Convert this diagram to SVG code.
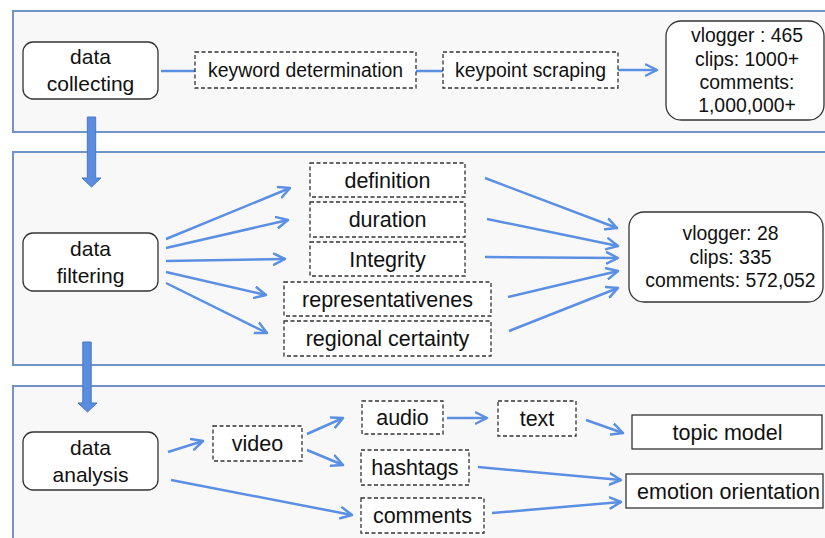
<svg xmlns="http://www.w3.org/2000/svg" width="825" height="538" viewBox="0 0 825 538">
  <style>
    .panel { fill: #f8f8f8; stroke: #7193c6; stroke-width: 2; }
    .node { fill: #ffffff; stroke: #333333; stroke-width: 1.3; }
    .dash { fill: #ffffff; stroke: #333333; stroke-width: 1.3; stroke-dasharray: 4 2.5; }
    .box { fill: #ffffff; stroke: #333333; stroke-width: 1.3; }
    .conn { fill: none; stroke: #5b8fe3; stroke-width: 2.5; }
    .big { fill: #5b8dde; stroke: #4b78c4; stroke-width: 1; }
    text { font-family: "Liberation Sans", Arial, sans-serif; fill: #111111; text-anchor: middle; }
    .t21 { font-size: 21px; }
    .t215 { font-size: 21.5px; }
    .t19 { font-size: 19.4px; }
  </style>
  <defs>
    <marker id="arr" markerUnits="userSpaceOnUse" markerWidth="14" markerHeight="14" viewBox="0 0 14 14" refX="12" refY="7" orient="auto">
      <path d="M1,1.5 L12,7 L1,12.5" fill="none" stroke="#5b8fe3" stroke-width="2.5" stroke-linecap="round" stroke-linejoin="round"/>
    </marker>
  </defs>

  <rect width="825" height="538" fill="#ffffff"/>

  <!-- stage panels -->
  <g id="panels">
    <rect class="panel" x="13" y="11" width="830" height="121"/>
    <rect class="panel" x="13" y="152" width="830" height="213"/>
    <rect class="panel" x="13" y="386" width="830" height="170"/>
  </g>

  <!-- stage-to-stage block arrows -->
  <g id="stage-arrows">
    <path class="big" d="M87.3,117 H95.7 V178 H101 L91.5,187 L82,178 H87.3 Z"/>
    <path class="big" d="M82.8,342 H91.2 V403 H97 L87.5,412 L78,403 H82.8 Z"/>
  </g>

  <!-- connectors -->
  <g id="connectors">
    <line class="conn" x1="161" y1="71" x2="195" y2="71"/>
    <line class="conn" x1="416" y1="71" x2="443" y2="71"/>
    <line class="conn" x1="618" y1="70" x2="657" y2="70" marker-end="url(#arr)"/>

    <line class="conn" x1="166" y1="239" x2="290" y2="188" marker-end="url(#arr)"/>
    <line class="conn" x1="166" y1="248" x2="288" y2="220" marker-end="url(#arr)"/>
    <line class="conn" x1="166" y1="261" x2="285" y2="259" marker-end="url(#arr)"/>
    <line class="conn" x1="166" y1="272" x2="266" y2="295" marker-end="url(#arr)"/>
    <line class="conn" x1="166" y1="283" x2="267" y2="333" marker-end="url(#arr)"/>

    <line class="conn" x1="485" y1="178" x2="617" y2="228" marker-end="url(#arr)"/>
    <line class="conn" x1="487" y1="219" x2="618" y2="246" marker-end="url(#arr)"/>
    <line class="conn" x1="485" y1="257" x2="618" y2="258" marker-end="url(#arr)"/>
    <line class="conn" x1="508" y1="297" x2="618" y2="271" marker-end="url(#arr)"/>
    <line class="conn" x1="509" y1="331" x2="618" y2="288" marker-end="url(#arr)"/>

    <line class="conn" x1="168" y1="452" x2="203" y2="441" marker-end="url(#arr)"/>
    <line class="conn" x1="171" y1="480" x2="352" y2="515" marker-end="url(#arr)"/>
    <line class="conn" x1="307" y1="434" x2="343" y2="418" marker-end="url(#arr)"/>
    <line class="conn" x1="307" y1="450" x2="343" y2="465" marker-end="url(#arr)"/>
    <line class="conn" x1="447" y1="418" x2="487" y2="418" marker-end="url(#arr)"/>
    <line class="conn" x1="586" y1="420" x2="623" y2="433" marker-end="url(#arr)"/>
    <line class="conn" x1="478" y1="467" x2="621" y2="480" marker-end="url(#arr)"/>
    <line class="conn" x1="492" y1="513" x2="621" y2="502" marker-end="url(#arr)"/>
  </g>

  <!-- stage 1: collecting -->
  <g id="data-collecting">
    <rect class="node" x="23" y="42" width="135" height="57" rx="10"/>
    <text class="t21" x="90.5" y="64">data</text>
    <text class="t21" x="90.5" y="91">collecting</text>
  </g>
  <g id="keyword-determination">
    <rect class="dash" x="195" y="52" width="221" height="36"/>
    <text class="t19" x="305.5" y="76.7">keyword determination</text>
  </g>
  <g id="keypoint-scraping">
    <rect class="dash" x="443" y="52" width="175" height="36"/>
    <text class="t19" x="530.5" y="76.7">keypoint scraping</text>
  </g>
  <g id="collect-result">
    <rect class="node" x="666" y="21" width="158" height="99" rx="15"/>
    <text class="t19" x="747" y="42.3">vlogger : 465</text>
    <text class="t19" x="747" y="65.6">clips: 1000+</text>
    <text class="t19" x="747" y="88.9">comments:</text>
    <text class="t19" x="747" y="112.2">1,000,000+</text>
  </g>

  <!-- stage 2: filtering -->
  <g id="data-filtering">
    <rect class="node" x="23" y="233" width="135" height="58" rx="10"/>
    <text class="t21" x="90.5" y="255.5">data</text>
    <text class="t21" x="90.5" y="282.5">filtering</text>
  </g>
  <g id="definition">
    <rect class="dash" x="310" y="163" width="155" height="34"/>
    <text class="t215" x="387.5" y="187.5">definition</text>
  </g>
  <g id="duration">
    <rect class="dash" x="310" y="202" width="155" height="35"/>
    <text class="t215" x="387.5" y="227">duration</text>
  </g>
  <g id="integrity">
    <rect class="dash" x="310" y="242" width="155" height="34"/>
    <text class="t215" x="387.5" y="266.5">Integrity</text>
  </g>
  <g id="representativeness">
    <rect class="dash" x="284" y="282" width="207" height="34"/>
    <text class="t215" x="387.5" y="306.5">representativenes</text>
  </g>
  <g id="regional-certainty">
    <rect class="dash" x="284" y="321" width="207" height="35"/>
    <text class="t215" x="387.5" y="346">regional certainty</text>
  </g>
  <g id="filter-result">
    <rect class="node" x="629" y="212" width="194" height="90" rx="15"/>
    <text class="t19" x="730.5" y="240">vlogger: 28</text>
    <text class="t19" x="730.5" y="263.5">clips: 335</text>
    <text class="t19" x="730.5" y="287">comments: 572,052</text>
  </g>

  <!-- stage 3: analysis -->
  <g id="data-analysis">
    <rect class="node" x="23" y="432" width="135" height="58" rx="10"/>
    <text class="t21" x="90.5" y="454.5">data</text>
    <text class="t21" x="90.5" y="481.5">analysis</text>
  </g>
  <g id="video">
    <rect class="dash" x="213" y="426" width="89" height="35"/>
    <text class="t215" x="257.5" y="451">video</text>
  </g>
  <g id="audio">
    <rect class="dash" x="362" y="401" width="81" height="33"/>
    <text class="t215" x="402.5" y="425">audio</text>
  </g>
  <g id="hashtags">
    <rect class="dash" x="361" y="450" width="108" height="35"/>
    <text class="t215" x="415" y="475">hashtags</text>
  </g>
  <g id="comments">
    <rect class="dash" x="361" y="498" width="123" height="35"/>
    <text class="t215" x="422.5" y="523">comments</text>
  </g>
  <g id="text">
    <rect class="dash" x="498" y="401" width="78" height="35"/>
    <text class="t215" x="537" y="426">text</text>
  </g>
  <g id="topic-model">
    <rect class="box" x="632" y="415" width="190" height="34"/>
    <text class="t215" x="727.5" y="439.5">topic model</text>
  </g>
  <g id="emotion-orientation">
    <rect class="box" x="626" y="474" width="197" height="34"/>
    <text class="t215" x="728.5" y="498.5">emotion orientation</text>
  </g>
</svg>
